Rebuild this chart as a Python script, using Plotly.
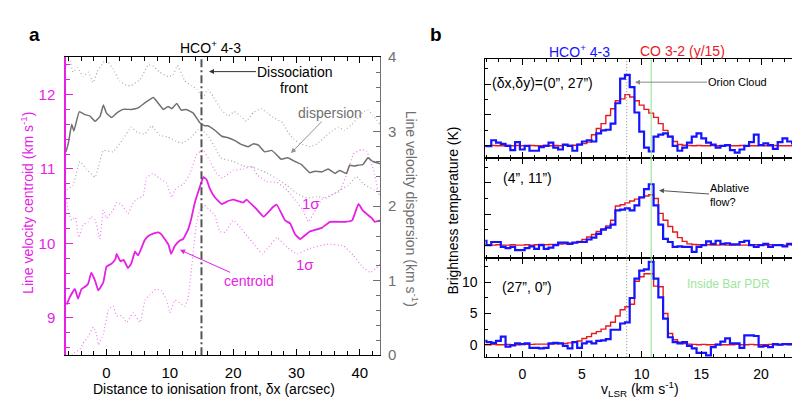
import plotly.graph_objects as go

# ---------------- Panel a data ----------------
disp_x = [-6.4,-6.05,-5.5,-5.15,-4.3,-3.4,-2.6,-1.8,-1.0,-0.5,0.0,0.8,1.6,2.6,3.9,5.0,6.1,7.4,8.2,9.0,9.7,10.3,11.1,11.8,12.6,13.7,14.75,15.5,16.0,17.1,18.2,19.2,20.3,21.3,22.4,23.2,24.0,25.0,26.1,27.1,27.6,28.6,29.8,30.8,32.1,32.9,34.0,35.0,36.1,36.8,37.9,38.4,39.2,39.7,40.5,41.3,42.1,42.9,43.2]
disp_y = [2.73,2.84,3.10,3.01,3.27,3.23,3.21,3.14,3.21,3.36,3.25,3.19,3.25,3.30,3.30,3.32,3.39,3.46,3.38,3.30,3.34,3.31,3.38,3.29,3.30,3.25,3.12,3.08,3.08,3.02,2.94,2.92,2.88,2.83,2.80,2.84,2.82,2.73,2.75,2.67,2.63,2.65,2.60,2.56,2.45,2.47,2.46,2.50,2.44,2.48,2.44,2.55,2.54,2.55,2.56,2.65,2.60,2.58,2.57]

disp_hi_x = [-6.4,-5.8,-5.3,-4.6,-3.7,-2.9,-2.1,-1.5,-0.5,0.0,1.05,2.1,3.2,3.9,5.3,6.6,7.4,8.4,9.7,10.5,11.2,12.4,13.4,14.3,15.2,16.0,16.8,18.2,19.2,20.2,21.2,22.1,23.2,24.4,25.4,26.6,27.8,28.7,29.6,30.6,32.2,33.3,34.5,35.6,36.6,37.6,38.8,39.9,40.6,41.3,42.1,43.2]
disp_hi_y = [3.89,3.96,3.80,3.86,3.74,3.80,3.66,3.80,3.93,3.96,3.84,3.68,3.62,3.62,3.70,3.90,3.88,3.80,3.74,3.76,3.89,3.68,3.62,3.57,3.45,3.57,3.48,3.29,3.21,3.27,3.21,3.14,3.26,3.31,3.25,3.18,3.12,2.99,2.90,2.84,2.80,2.84,2.93,3.01,3.06,3.02,3.10,3.21,3.27,3.29,3.22,3.10]

disp_lo_x = [-6.3,-5.3,-4.2,-3.2,-1.8,-0.5,1.0,2.6,3.9,4.9,6.1,7.1,8.4,9.7,11.3,12.1,13.4,14.5,15.4,16.2,17.1,18.0,20.1,21.6,23.2,25.3,26.9,28.5,30.1,31.7,33.2,34.8,36.9,38.2,39.5,40.6,42.3,43.2]
disp_lo_y = [2.22,2.28,2.60,2.50,2.39,2.75,2.73,2.90,3.06,2.99,2.97,3.08,2.95,2.93,2.86,2.85,2.93,3.03,3.00,2.92,2.80,2.65,2.60,2.54,2.52,2.45,2.37,2.28,2.17,2.11,2.13,2.11,2.22,2.28,2.40,2.30,2.22,2.25]

cen_x = [-6.3,-5.8,-5.0,-4.5,-3.95,-3.4,-2.9,-2.4,-1.8,-1.3,-0.5,0.0,0.8,1.4,1.6,2.2,2.7,3.4,3.9,4.5,5.0,6.0,6.6,7.6,8.2,8.7,9.2,9.8,10.2,10.8,11.6,12.1,12.9,13.4,13.9,14.2,14.7,15.3,15.8,16.3,17.1,18.2,19.2,20.0,21.6,22.1,23.7,24.8,26.3,26.9,28.2,29.0,29.8,30.6,32.1,34.0,35.3,37.7,38.8,39.8,40.5,41.9,42.4,43.2]
cen_y = [9.18,9.28,9.39,9.26,9.39,9.42,9.46,9.61,9.50,9.37,9.48,9.69,9.73,9.79,9.86,9.76,9.78,9.67,9.73,9.89,9.84,10.04,10.10,10.14,10.15,10.12,10.06,9.98,9.86,9.97,10.04,10.06,10.19,10.34,10.53,10.62,10.75,10.89,10.86,10.74,10.62,10.53,10.57,10.59,10.55,10.59,10.46,10.36,10.49,10.52,10.31,10.27,10.12,10.06,10.16,10.21,10.29,10.29,10.31,10.53,10.44,10.34,10.29,10.31]

cen_hi_x = [-6.4,-5.9,-5.5,-4.9,-4.4,-3.7,-2.9,-2.4,-1.8,-1.05,-0.5,0.0,1.05,1.6,2.4,3.4,4.2,4.9,5.8,6.3,7.3,8.3,9.5,10.3,10.8,11.3,12.2,13.2,14.2,15.2,16.3,17.4,18.3,20.0,21.6,23.0,23.8,25.3,26.9,28.5,30.1,31.0,31.9,33.0,34.0,35.5,36.8,38.0,39.0,39.7,40.3,41.1,42.2,42.8,43.2]
cen_hi_y = [10.6,10.4,10.31,10.35,10.08,10.25,10.29,10.36,10.32,10.06,10.45,10.34,10.45,10.55,10.52,10.40,10.55,10.60,10.64,10.88,10.94,10.88,10.81,10.62,10.72,10.76,10.80,10.94,11.19,11.26,11.11,10.94,10.88,10.98,11.00,11.04,10.92,10.83,10.82,10.72,10.55,10.45,10.29,10.45,10.59,10.65,10.70,10.94,11.20,11.24,11.26,11.24,10.98,10.75,10.62]

cen_lo_x = [-5.6,-5.3,-4.2,-3.7,-2.9,-2.1,-1.6,-1.3,-0.5,0.3,1.05,1.6,2.4,3.2,4.2,5.3,6.1,6.8,7.9,8.7,9.5,10.0,10.8,11.6,12.4,12.9,13.7,14.2,14.7,15.5,16.3,17.1,17.9,18.7,20.0,21.3,22.2,23.4,24.6,25.6,26.9,28.5,30.1,32.0,34.8,37.4,39.0,40.6,41.7,42.6,43.2]
cen_lo_y = [8.45,8.52,8.58,8.66,8.75,8.88,8.79,8.64,8.78,9.11,9.16,9.03,9.03,8.94,9.07,8.94,9.24,9.31,9.39,9.36,9.24,9.07,9.24,9.20,9.16,9.28,9.89,10.27,10.44,10.51,10.45,10.38,10.16,10.15,10.31,10.20,10.10,9.98,9.86,9.95,10.08,9.95,9.86,9.93,9.99,9.97,9.84,9.67,9.61,9.67,9.72]

# ---------------- Panel b data ----------------
v_lsr = [-3.2,-2.8,-2.4,-2.0,-1.6,-1.2,-0.8,-0.4,0.0,0.4,0.8,1.2,1.6,2.0,2.4,2.8,3.2,3.6,4.0,4.4,4.8,5.2,5.6,6.0,6.4,6.8,7.2,7.6,8.0,8.4,8.8,9.2,9.6,10.0,10.4,10.8,11.2,11.6,12.0,12.4,12.8,13.2,13.6,14.0,14.4,14.8,15.2,15.6,16.0,16.4,16.8,17.2,17.6,18.0,18.4,18.8,19.2,19.6,20.0,20.4,20.8,21.2,21.6,22.0,22.4,22.8,23.2]

hco_1 = [-0.05,-0.05,0.9,0.5,0.3,0.0,-0.7,0.6,-0.6,0.0,-0.8,-0.8,-0.2,0.0,0.5,-0.3,-0.6,0.2,0.0,-0.8,0.2,0.7,0.9,0.7,2.0,2.5,2.6,3.6,6.9,10.9,11.5,9.5,5.4,2.3,-0.3,-0.9,1.5,1.8,2.0,1.5,0.0,-0.8,-0.3,0.5,1.5,2.0,1.2,0.5,0.2,-0.3,0.0,0.1,-0.7,-1.1,-0.6,0.0,0.6,1.8,0.1,0.4,0.1,-0.5,0.6,1.2,0.7,0.4,0.4]
co_1 = [0.0,0.0,0.05,0.0,0.0,0.05,0.0,0.05,0.0,0.0,0.05,0.0,0.0,0.05,0.0,0.05,0.0,0.1,0.05,0.1,0.2,0.35,0.6,1.8,2.8,3.6,4.9,6.0,7.3,7.6,8.3,7.9,7.3,6.6,5.9,5.3,4.6,3.6,2.5,1.5,0.7,0.2,0.1,0.05,0.0,0.05,0.0,0.0,0.05,0.0,0.0,0.05,0.0,0.0,0.05,0.0,0.0,0.0,0.05,0.0,0.0,0.05,0.0,0.0,0.0,0.05,0.05]

hco_2 = [0.7,0.0,0.5,0.5,-0.3,-0.5,-0.3,-0.8,-0.8,-0.5,-0.2,-0.6,0.0,-0.6,-0.4,0.0,0.4,0.4,0.2,0.4,0.5,0.5,0.9,1.2,1.8,2.5,2.8,3.3,5.6,5.7,5.9,5.6,6.4,7.7,9.0,9.8,6.4,3.3,1.0,0.5,-0.3,-0.2,-0.3,-0.3,-1.1,-0.3,0.0,0.6,0.2,0.7,0.2,0.3,0.1,0.1,0.5,0.7,0.0,-0.3,0.0,0.2,-0.3,0.0,0.0,-0.2,0.2,0.1,0.1]
co_2 = [0.0,0.0,0.0,0.05,0.0,0.0,0.05,0.0,0.0,0.05,0.0,0.05,0.1,0.05,0.1,0.1,0.15,0.2,0.3,0.4,0.6,0.9,1.3,1.7,2.2,2.6,3.1,4.0,6.3,6.5,6.8,7.1,7.4,7.6,7.9,8.1,7.5,5.1,4.0,3.0,2.1,1.2,0.6,0.2,0.1,0.05,0.0,0.05,0.0,0.0,0.05,0.0,0.0,0.05,0.0,0.0,0.0,0.05,0.0,0.0,0.05,0.0,0.0,0.0,0.05,0.0,0.0]

hco_3 = [0.6,0.4,0.3,0.6,1.3,-0.3,-0.1,0.2,0.1,0.2,-0.5,-0.5,-0.6,-0.5,0.2,0.3,0.2,-0.2,-0.6,0.4,-0.5,0.2,0.5,0.2,0.6,0.7,0.9,2.4,2.4,3.4,3.6,7.5,10.6,11.9,12.1,13.3,10.6,7.6,4.2,1.2,0.4,0.2,0.4,-0.2,-0.6,-1.3,-1.3,-1.7,-0.4,0.0,0.5,1.0,0.2,0.2,-0.5,1.5,1.5,1.4,-0.3,-0.2,-0.4,0.1,0.0,0.1,0.1,0.1,0.1]
co_3 = [0.0,0.0,0.05,0.0,0.0,0.05,0.0,0.0,0.05,0.05,0.05,0.1,0.1,0.1,0.1,0.15,0.2,0.2,0.3,0.4,0.6,1.0,1.3,1.8,2.1,2.5,3.0,3.6,4.6,5.6,6.1,6.5,10.2,10.9,11.4,11.4,9.4,9.3,5.0,1.8,0.8,0.4,0.2,0.1,0.05,0.0,0.05,0.0,0.0,0.05,0.0,0.0,0.0,0.05,0.0,0.0,0.05,0.0,0.0,0.0,0.05,0.0,0.0,0.05,0.0,0.0,0.0]

FONT = "Liberation Sans, Arial, Helvetica, sans-serif"
MAG = "#e61ee6"
MAG_L = "#f27af2"
GRY = "#707070"
GRY_L = "#ababab"
BLUE = "#1414ff"
RED = "#e8191e"
GREEN = "#9be69b"

W, H = 800, 407
def px(x):
    return x / W
def py(y):
    return 1 - y / H

fig = go.Figure()

# panel a traces
for xs, ys, ax_, col, wid, dash in [
    (disp_hi_x, disp_hi_y, "y2", GRY_L, 1.2, "1px,2.5px"),
    (disp_lo_x, disp_lo_y, "y2", GRY_L, 1.2, "1px,2.5px"),
    (disp_x, disp_y, "y2", GRY, 1.5, "solid"),
    (cen_hi_x, cen_hi_y, "y", MAG_L, 1.2, "1px,2.5px"),
    (cen_lo_x, cen_lo_y, "y", MAG_L, 1.2, "1px,2.5px"),
    (cen_x, cen_y, "y", MAG, 1.8, "solid"),
]:
    fig.add_trace(go.Scatter(x=xs, y=ys, xaxis="x", yaxis=ax_, mode="lines",
                             line=dict(color=col, width=wid, dash=dash, shape="spline", smoothing=0.3)))

# panel b traces
for xa, ya, hco, co in [("x2", "y3", hco_1, co_1), ("x3", "y4", hco_2, co_2), ("x4", "y5", hco_3, co_3)]:
    fig.add_trace(go.Scatter(x=v_lsr, y=co, xaxis=xa, yaxis=ya, mode="lines",
                             line=dict(color=RED, width=1.4, shape="hvh")))
    fig.add_trace(go.Scatter(x=v_lsr, y=hco, xaxis=xa, yaxis=ya, mode="lines",
                             line=dict(color=BLUE, width=2.2, shape="hvh")))

shapes = [
    dict(type="line", xref="x", yref="y domain", x0=15, x1=15, y0=0, y1=1,
         line=dict(color="#555555", width=2, dash="8px,3px,2px,3px")),
]
for xa, ya in [("x2", "y3"), ("x3", "y4"), ("x4", "y5")]:
    shapes.append(dict(type="line", xref=xa, yref=ya + " domain", x0=8.75, x1=8.75, y0=0, y1=1,
                       line=dict(color="#8c8c8c", width=1, dash="1px,2px")))
    shapes.append(dict(type="line", xref=xa, yref=ya + " domain", x0=10.8, x1=10.8, y0=0, y1=1,
                       line=dict(color=GREEN, width=1.2)))

tick_black = dict(ticks="inside", ticklen=6, tickcolor="black", showline=True, linecolor="black",
                  linewidth=1, showgrid=False, zeroline=False, mirror="ticks")

yl = [0.1327, 0.8968]
bx = [0.5966, 0.9875]
layout = dict(
    width=W, height=H, margin=dict(l=0, r=0, t=0, b=0),
    paper_bgcolor="white", plot_bgcolor="white", showlegend=False,
    font=dict(family=FONT, size=14, color="black"),
    xaxis=dict(domain=[0.0725, 0.465], anchor="y", range=[-6.4, 43.2], dtick=10, tick0=0,
               minor=dict(ticks="inside", ticklen=4, dtick=2, tickcolor="black"),
               tickfont=dict(size=15), ticklabelstandoff=4, **tick_black),
    yaxis=dict(domain=yl, anchor="x", range=[8.5, 12.5], dtick=1, tick0=9, side="left",
               ticks="inside", ticklen=7, tickcolor=MAG, showline=True, linecolor=MAG, linewidth=1.5,
               showgrid=False, zeroline=False, tickfont=dict(size=15, color=MAG), ticklabelstandoff=6,
               minor=dict(ticks="inside", ticklen=4, dtick=0.2, tickcolor=MAG)),
    yaxis2=dict(overlaying="y", anchor="x", side="right", range=[0, 4], dtick=1, tick0=0,
                ticks="inside", ticklen=7, tickcolor=GRY, showline=True, linecolor=GRY, linewidth=1,
                showgrid=False, zeroline=False, tickfont=dict(size=15, color=GRY), ticklabelstandoff=4,
                minor=dict(ticks="inside", ticklen=4, dtick=0.2, tickcolor=GRY)),
    shapes=shapes,
)
ydoms = {"y3": [0.6381, 0.8912], "y4": [0.3833, 0.6381], "y5": [0.1278, 0.3833]}
for xa, ya, last in [("xaxis2", "y3", False), ("xaxis3", "y4", False), ("xaxis4", "y5", True)]:
    layout[xa] = dict(domain=bx, anchor=ya, range=[-3.1, 23.1], dtick=5, tick0=0,
                      showticklabels=last, tickfont=dict(size=14), ticklabelstandoff=4,
                      minor=dict(ticks="inside", ticklen=3, dtick=1, tickcolor="black"),
                      **tick_black)
    yname = "yaxis" + ya[1:]
    layout[yname] = dict(domain=ydoms[ya], anchor="x" + str(int(ya[1:]) - 1), range=[-2, 14],
                         dtick=5, tick0=0, showticklabels=last, tickfont=dict(size=14),
                         ticklabelstandoff=4,
                         minor=dict(ticks="inside", ticklen=3, dtick=2.5, tickcolor="black"),
                         **tick_black)

fig.update_layout(**layout)

def txt(x, y, s, size=14, color="black", angle=0, xanchor="center", align="center", bold=False):
    if bold:
        s = "<b>" + s + "</b>"
    fig.add_annotation(x=px(x), y=py(y), xref="paper", yref="paper", text=s, showarrow=False,
                       font=dict(family=FONT, size=size, color=color), textangle=angle,
                       xanchor=xanchor, yanchor="middle", align=align, borderpad=0)

def label_arrow(tx, ty, hx, hy, s, size, color, acolor, align="center"):
    # text centred at (tx,ty); arrow from text box towards head (hx,hy); pixel positions
    fig.add_annotation(x=px(hx), y=py(hy), xref="paper", yref="paper", ax=tx - hx, ay=ty - hy,
                       axref="pixel", ayref="pixel", text=s, showarrow=True, arrowhead=2,
                       arrowsize=1, arrowwidth=1, arrowcolor=acolor, align=align, borderpad=0,
                       font=dict(family=FONT, size=size, color=color))

# panel a texts
txt(26, 18, "a", size=19, bold=True)
txt(203, 31, "HCO<sup>+</sup> 4-3", size=14)
label_arrow(286, 57, 201, 57, "Dissociation", 14, "black", "#333333")
txt(286, 74, "front", size=14)
label_arrow(322, 102, 283, 142, "dispersion", 14, GRY, "#909090")
txt(303, 195, "1σ", size=15, color=MAG)
txt(297, 258, "1σ", size=15, color=MAG)
label_arrow(241, 274, 172, 243, "centroid", 14, MAG, MAG)
txt(19, 194, "Line velocity centroid (km s<sup>-1</sup>)", size=14, color=MAG, angle=-90)
txt(404, 200, "Line velocity dispersion (km s<sup>-1</sup>)", size=14, color=GRY, angle=90)
txt(206, 388, "Distance to ionisation front, δx (arcsec)", size=14)

# panel b texts
txt(428, 18, "b", size=19, bold=True)
txt(571, 35, "HCO<sup>+</sup> 4-3", size=14, color=BLUE)
txt(674, 35, "CO 3-2 (y/15)", size=14, color=RED)
txt(534, 69, "(δx,δy)=(0”, 27”)", size=14)
label_arrow(729, 68, 627, 68, "Orion Cloud", 11, "black", "#888888")
label_arrow(721, 186, 651, 181, "Ablative<br>flow?", 11, "black", "#555555", align="left")
txt(519, 168, "(4”, 11”)", size=14)
txt(519, 282, "(27”, 0”)", size=14)
txt(720, 279, "Inside Bar PDR", size=12, color=GREEN)
txt(445, 202, "Brightness temperature (K)", size=14, angle=-90)
txt(632, 388, "v<sub>LSR</sub> (km s<sup>-1</sup>)", size=14)

fig.write_html("out.html")
